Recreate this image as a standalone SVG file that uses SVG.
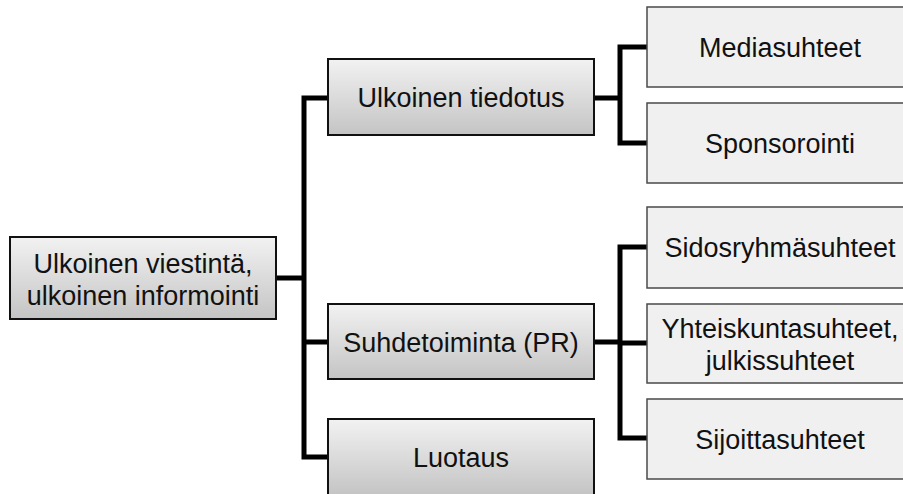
<svg xmlns="http://www.w3.org/2000/svg" width="903" height="494" viewBox="0 0 903 494">
  <defs>
    <linearGradient id="shade" x1="0" y1="0" x2="0" y2="1">
      <stop offset="0" stop-color="#f2f2f2"/>
      <stop offset="1" stop-color="#c4c4c4"/>
    </linearGradient>
  </defs>
  <style>
    .main { fill: url(#shade); stroke: #111; stroke-width: 2; }
    .leaf { fill: #f0f0f0; stroke: #4a4a4a; stroke-width: 1.5; }
    .lbl { font-family: "Liberation Sans", Arial, sans-serif; font-size: 27px; fill: #111; text-anchor: middle; }
    .wire { fill: none; stroke: #000; stroke-width: 5; stroke-linejoin: miter; }
  </style>
  <rect width="903" height="494" fill="#fff"/>

  <g id="connectors">
    <path class="wire" d="M276 278 H304"/>
    <path class="wire" d="M328 98 H304 V457 H328 M304 342 H328"/>
    <path class="wire" d="M594 98 H620 M647 47 H620 V143 H647"/>
    <path class="wire" d="M594 342 H620 M647 247 H620 V438 H647 M620 343 H647"/>
  </g>

  <g id="root">
    <rect class="main" x="10" y="237" width="266" height="82"/>
    <text class="lbl" x="143" y="273">Ulkoinen viestintä,</text>
    <text class="lbl" x="143" y="305">ulkoinen informointi</text>
  </g>

  <g id="ulkoinen-tiedotus">
    <rect class="main" x="328" y="59" width="266" height="76"/>
    <text class="lbl" x="461" y="107">Ulkoinen tiedotus</text>
  </g>

  <g id="suhdetoiminta">
    <rect class="main" x="328" y="304" width="266" height="75"/>
    <text class="lbl" x="461" y="352">Suhdetoiminta (PR)</text>
  </g>

  <g id="luotaus">
    <rect class="main" x="328" y="419" width="266" height="76"/>
    <text class="lbl" x="461" y="467">Luotaus</text>
  </g>

  <g id="mediasuhteet">
    <rect class="leaf" x="647" y="7" width="266" height="80"/>
    <text class="lbl" x="780" y="57">Mediasuhteet</text>
  </g>

  <g id="sponsorointi">
    <rect class="leaf" x="647" y="103" width="266" height="80"/>
    <text class="lbl" x="780" y="153">Sponsorointi</text>
  </g>

  <g id="sidosryhmasuhteet">
    <rect class="leaf" x="647" y="207" width="266" height="81"/>
    <text class="lbl" x="780" y="257">Sidosryhmäsuhteet</text>
  </g>

  <g id="yhteiskuntasuhteet">
    <rect class="leaf" x="647" y="304" width="266" height="79"/>
    <text class="lbl" x="780" y="338">Yhteiskuntasuhteet,</text>
    <text class="lbl" x="780" y="370">julkissuhteet</text>
  </g>

  <g id="sijoittasuhteet">
    <rect class="leaf" x="647" y="399" width="266" height="80"/>
    <text class="lbl" x="780" y="449">Sijoittasuhteet</text>
  </g>
</svg>
